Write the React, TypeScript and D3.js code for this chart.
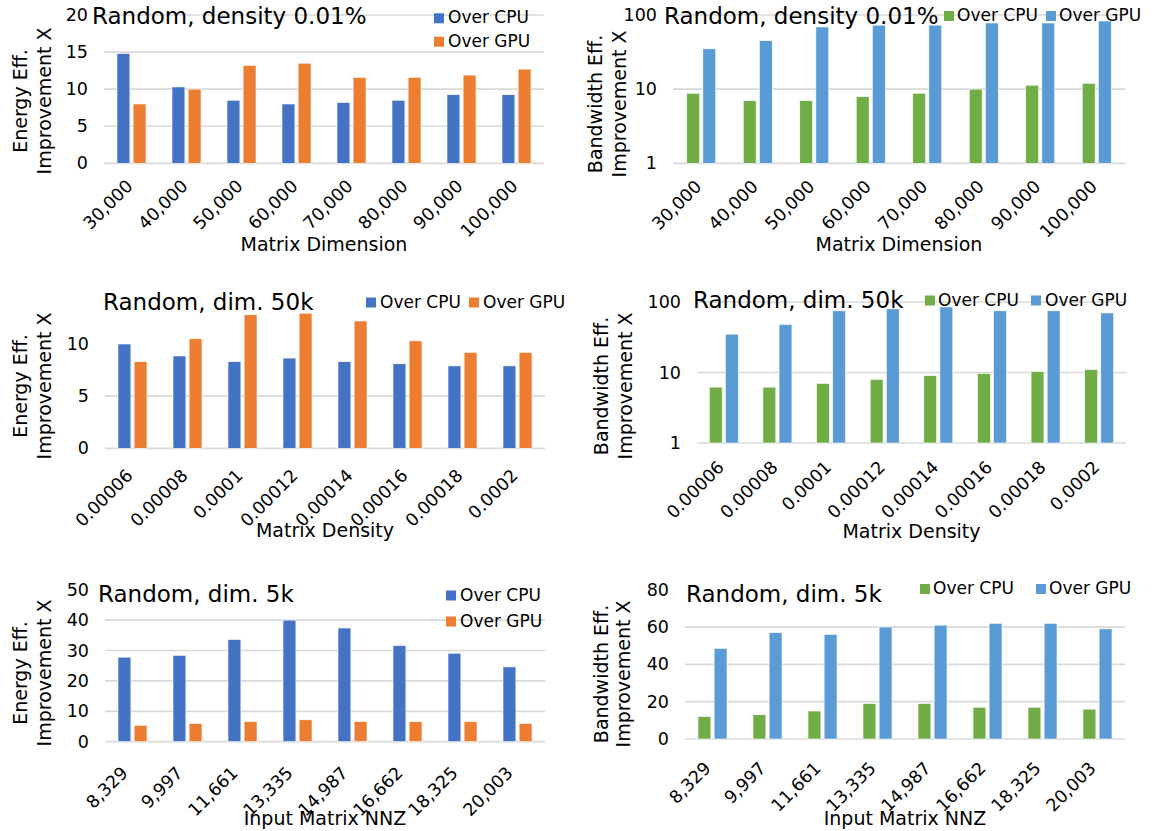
import React from "react";
import * as d3 from "d3";

// category labels
const dimLabels = ["30,000", "40,000", "50,000", "60,000", "70,000", "80,000", "90,000", "100,000"];
const densityLabels = ["0.00006", "0.00008", "0.0001", "0.00012", "0.00014", "0.00016", "0.00018", "0.0002"];
const nnzLabels = ["8,329", "9,997", "11,661", "13,335", "14,987", "16,662", "18,325", "20,003"];

// series values
const energyDimCpu = [14.8, 10.3, 8.5, 8.0, 8.2, 8.5, 9.25, 9.25];
const energyDimGpu = [8.0, 10.0, 13.2, 13.5, 11.6, 11.6, 11.9, 12.7];
const bwDimCpu = [8.8, 7.0, 7.0, 7.9, 8.8, 10, 11.3, 12];
const bwDimGpu = [35, 45, 69, 73, 73, 78, 78, 83];

const energyDensCpu = [10.0, 8.85, 8.3, 8.65, 8.3, 8.1, 7.9, 7.9];
const energyDensGpu = [8.3, 10.5, 12.8, 12.95, 12.2, 10.3, 9.2, 9.2];
const bwDensCpu = [6.2, 6.2, 7.0, 8.0, 9.0, 9.7, 10.3, 11.0];
const bwDensGpu = [35, 48, 75, 80, 85, 75, 75, 70];

const energyNnzCpu = [27.8, 28.4, 33.6, 40.0, 37.4, 31.6, 29.1, 24.6];
const energyNnzGpu = [5.4, 6.0, 6.6, 7.2, 6.6, 6.6, 6.6, 6.0];
const bwNnzCpu = [12, 13, 15, 19, 19, 17, 17, 16];
const bwNnzGpu = [48.6, 57, 56, 60, 61, 62, 62, 59];

const energyTicks20 = [0, 5, 10, 15, 20];
const energyTicks10 = [0, 5, 10];
const energyTicks50 = [0, 10, 20, 30, 40, 50];
const bwTicksLog = [1, 10, 100];
const bwTicks80 = [0, 20, 40, 60, 80];

const seriesNames = ["Over CPU", "Over GPU"];

const BLUE = "#4472C4";
const ORANGE = "#ED7D31";
const GREEN = "#70AD47";
const LBLUE = "#5B9BD5";
const GRID = "#D9D9D9";
const FONT = "DejaVu Sans";
const TICK_SIZE = 17.5;

const panels = [
  {
    title: "Random, density 0.01%", titleX: 92, titleY: 24,
    labels: dimLabels, cpu: energyDimCpu, gpu: energyDimGpu, colors: [BLUE, ORANGE],
    log: false, domain: [0, 20], ticks: energyTicks20, topGrid: true,
    left: 104, right: 544, bottom: 163.3, top: 15, labelGap: 19.5, labelShift: -2,
    yTitle: ["Energy Eff.", "Improvement X"], yTitleX: [20, 44], yTitleY: 101,
    xTitle: "Matrix Dimension", xTitleY: 251,
    legend: { sq: [434, 434], tx: [448, 448], ty: [23.3, 46.7] },
  },
  {
    title: "Random, density 0.01%", titleX: 664, titleY: 24,
    labels: dimLabels, cpu: bwDimCpu, gpu: bwDimGpu, colors: [GREEN, LBLUE],
    log: true, domain: [1, 100], ticks: bwTicksLog, topGrid: true,
    left: 673, right: 1125, bottom: 163.3, top: 15, labelGap: 20, labelShift: -3,
    yTitle: ["Bandwidth Eff.", "Improvement X"], yTitleX: [595, 619], yTitleY: 104,
    xTitle: "Matrix Dimension", xTitleY: 251,
    legend: { sq: [944, 1046], tx: [957, 1059], ty: [21, 21] },
  },
  {
    title: "Random, dim. 50k", titleX: 103, titleY: 310,
    labels: densityLabels, cpu: energyDensCpu, gpu: energyDensGpu, colors: [BLUE, ORANGE],
    log: false, domain: [0, 13], ticks: energyTicks10, topGrid: false,
    left: 105, right: 545, bottom: 448.3, top: 312.7, labelGap: 24, labelShift: -3,
    yTitle: ["Energy Eff.", "Improvement X"], yTitleX: [20, 44], yTitleY: 386,
    xTitle: "Matrix Density", xTitleY: 537,
    legend: { sq: [366, 469], tx: [380, 483], ty: [307.5, 307.5] },
  },
  {
    title: "Random, dim. 50k", titleX: 693, titleY: 307.5,
    labels: densityLabels, cpu: bwDensCpu, gpu: bwDensGpu, colors: [GREEN, LBLUE],
    log: true, domain: [1, 100], ticks: bwTicksLog, topGrid: true,
    left: 697, right: 1126, bottom: 443, top: 302, labelGap: 21, labelShift: -3,
    yTitle: ["Bandwidth Eff.", "Improvement X"], yTitleX: [601, 625], yTitleY: 386,
    xTitle: "Matrix Density", xTitleY: 537.5,
    legend: { sq: [925, 1031], tx: [938, 1045], ty: [305.5, 305.5] },
  },
  {
    title: "Random, dim. 5k", titleX: 98, titleY: 601.5,
    labels: nnzLabels, cpu: energyNnzCpu, gpu: energyNnzGpu, colors: [BLUE, ORANGE],
    log: false, domain: [0, 50], ticks: energyTicks50, topGrid: false,
    left: 105, right: 545, bottom: 741.7, top: 589.7, labelGap: 28, labelShift: -8,
    yTitle: ["Energy Eff.", "Improvement X"], yTitleX: [20, 44], yTitleY: 673,
    xTitle: "Input Matrix NNZ", xTitleY: 825,
    legend: { sq: [446, 446], tx: [460, 460], ty: [600.5, 626.5] },
  },
  {
    title: "Random, dim. 5k", titleX: 686, titleY: 602,
    labels: nnzLabels, cpu: bwNnzCpu, gpu: bwNnzGpu, colors: [GREEN, LBLUE],
    log: false, domain: [0, 80], ticks: bwTicks80, topGrid: false,
    left: 685, right: 1125, bottom: 739, top: 589.7, labelGap: 26, labelShift: -5,
    yTitle: ["Bandwidth Eff.", "Improvement X"], yTitleX: [601, 623], yTitleY: 674,
    xTitle: "Input Matrix NNZ", xTitleY: 825,
    legend: { sq: [920, 1036], tx: [933, 1049], ty: [594, 594] },
  },
];

const Panel = ({ p }) => {
  const x = d3.scaleBand().domain(p.labels).range([p.left, p.right]);
  const inner = d3.scaleBand().domain(seriesNames).range([-14.5, 14.5]).paddingInner(0.2);
  const y = p.log
    ? d3.scaleLog().domain(p.domain).range([p.bottom, p.top])
    : d3.scaleLinear().domain(p.domain).range([p.bottom, p.top]);
  const base = p.log ? 1 : 0;
  const series = [p.cpu, p.gpu];
  const gridTicks = p.topGrid ? p.ticks : p.ticks.slice(0, -1);

  return (
    <g fontFamily={FONT} fill="#000">
      {gridTicks.map((t) => (
        <line key={"g" + t} x1={p.left} x2={p.right} y1={y(t)} y2={y(t)} stroke={GRID} strokeWidth={1.7} />
      ))}
      {p.ticks.map((t) => (
        <text key={"t" + t} x={p.left - 16} y={y(t)} dy="0.35em" textAnchor="end" fontSize={TICK_SIZE}>
          {t}
        </text>
      ))}
      {series.map((vals, si) =>
        vals.map((v, i) => (
          <rect
            key={si + "-" + i}
            x={x(p.labels[i]) + x.bandwidth() / 2 + inner(seriesNames[si])}
            width={inner.bandwidth()}
            y={y(v)}
            height={y(base) - y(v)}
            fill={p.colors[si]}
            stroke="#fff"
            strokeWidth={0.6}
          />
        ))
      )}
      {p.labels.map((l) => (
        <text
          key={"x" + l}
          transform={`translate(${x(l) + x.bandwidth() / 2 + p.labelShift},${p.bottom + p.labelGap}) rotate(-45)`}
          dy="0.35em"
          textAnchor="end"
          fontSize={TICK_SIZE}
        >
          {l}
        </text>
      ))}
      {p.yTitle.map((t, i) => (
        <text
          key={"yt" + i}
          transform={`translate(${p.yTitleX[i]},${p.yTitleY}) rotate(-90)`}
          dy="0.35em"
          textAnchor="middle"
          fontSize={19}
        >
          {t}
        </text>
      ))}
      <text x={(p.left + p.right) / 2} y={p.xTitleY} textAnchor="middle" fontSize={19}>
        {p.xTitle}
      </text>
      <text x={p.titleX} y={p.titleY} fontSize={23}>
        {p.title}
      </text>
      {seriesNames.map((s, i) => (
        <g key={"lg" + i}>
          <rect x={p.legend.sq[i]} y={p.legend.ty[i] - 10} width={10} height={10} fill={p.colors[i]} />
          <text x={p.legend.tx[i]} y={p.legend.ty[i]} fontSize={17}>
            {s}
          </text>
        </g>
      ))}
    </g>
  );
};

export default function App() {
  return (
    <svg
      width={1155}
      height={831}
      style={{ position: "absolute", left: 0, top: 0, background: "#fff" }}
    >
      {panels.map((p, i) => (
        <Panel key={i} p={p} />
      ))}
    </svg>
  );
}
